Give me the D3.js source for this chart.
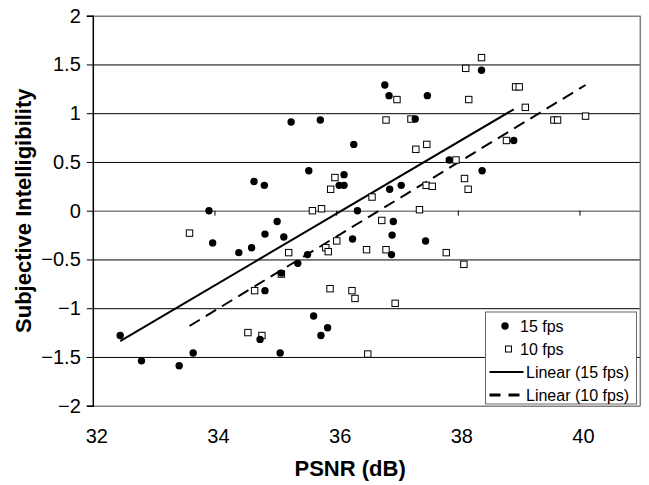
<!DOCTYPE html>
<html>
<head>
<meta charset="utf-8">
<script src="https://cdn.jsdelivr.net/npm/d3@7"></script>
<style>
  body { margin: 0; background: #fff; }
  text { font-family: "Liberation Sans", Arial, sans-serif; fill: #000; }
</style>
</head>
<body>
<div id="chart"></div>
<script>
const svgWidth = 649
const svgHeight = 485
let margin = { top: 15.7, right: 8.7, bottom: 79.3, left: 92.8 }
let width = svgWidth - margin.left - margin.right
let height = svgHeight - margin.top - margin.bottom

// 15 fps (filled circles)
const psnr15 = [33.91, 35.03, 34.83, 35.14, 33.97, 34.40, 34.61, 34.83, 35.10, 32.45,
  32.80, 33.42, 33.65, 34.75, 35.08, 36.35, 36.94, 36.92, 36.27, 37.47,
  36.91, 35.53, 35.37, 35.63, 35.86, 35.75, 36.80, 36.87, 37.50, 35.26,
  35.74, 37.30, 36.29, 35.55, 34.65, 34.82, 36.13, 36.05, 36.13, 36.88,
  37.07, 38.39, 38.92, 37.86, 38.40]
const intel15 = [0.00, -0.11, -0.24, -0.27, -0.33, -0.43, -0.38, -0.82, -0.64, -1.28,
  -1.54, -1.59, -1.46, -1.32, -1.46, 0.00, -0.11, -0.25, -0.29, -0.31,
  -0.45, -0.45, -0.54, -1.08, -1.20, -1.28, 1.29, 1.18, 1.18, 0.91,
  0.93, 0.94, 0.68, 0.41, 0.30, 0.26, 0.37, 0.26, 0.26, 0.22,
  0.26, 1.44, 0.72, 0.52, 0.41]

// 10 fps (open squares)
const psnr10 = [33.59, 34.66, 34.55, 34.78, 35.61, 35.76, 36.75, 37.37, 36.01, 35.83,
  35.87, 35.22, 36.50, 36.82, 37.81, 35.10, 35.90, 36.26, 36.31, 36.97,
  36.52, 37.48, 37.58, 38.11, 38.17, 38.10, 37.00, 36.82, 37.23, 37.49,
  37.31, 35.98, 35.91, 36.59, 38.39, 38.13, 38.95, 39.01, 38.18, 39.11,
  39.58, 39.64, 40.10, 38.80, 37.97]
const intel10 = [-0.23, -0.82, -1.25, -1.28, 0.00, 0.02, -0.10, 0.01, -0.31, -0.38,
  -0.42, -0.43, -0.40, -0.40, -0.43, -0.65, -0.80, -0.82, -0.90, -0.95,
  -1.47, 0.26, 0.25, 0.33, 0.22, -0.55, 1.14, 0.93, 0.94, 0.68,
  0.63, 0.34, 0.22, 0.14, 1.57, 1.46, 1.27, 1.27, 1.14, 1.06,
  0.93, 0.93, 0.97, 0.72, 0.52]

const xTicks = [32, 34, 36, 38, 40]
const yTicks = [-2, -1.5, -1, -0.5, 0, 0.5, 1, 1.5, 2]
const legendLabels = ["15 fps", "10 fps", "Linear (15 fps)", "Linear (10 fps)"]

let svg = d3.select("#chart")
  .append("svg")
  .attr("width", svgWidth)
  .attr("height", svgHeight)
let chartGroup = svg.append("g")
  .attr("transform", `translate(${margin.left}, ${margin.top})`)

let x = d3.scaleLinear().domain([32, 41]).range([0, width])
let y = d3.scaleLinear().domain([-2, 2]).range([height, 0])

// horizontal gridlines
let grid = chartGroup.append("g")
  .call(d3.axisLeft(y).tickValues(yTicks).tickSize(-width).tickFormat(""))
grid.select(".domain").remove()
grid.selectAll("line").attr("stroke", "#000").attr("stroke-width", 1)
grid.selectAll(".tick")
  .filter(d => d === 2 || d === -2 || d === 0)
  .select("line").attr("stroke", "#808080").attr("stroke-width", 1.5)

// plot border (right side)
chartGroup.append("line")
  .attr("x1", width).attr("x2", width).attr("y1", 0).attr("y2", height)
  .attr("stroke", "#808080").attr("stroke-width", 1.5)

// y axis
let yAxis = chartGroup.append("g")
  .call(d3.axisLeft(y).tickValues(yTicks).tickSize(6).tickPadding(6)
    .tickFormat(d => d3.format("")(d)))
yAxis.select(".domain").attr("stroke", "#000").attr("stroke-width", 1.5)
yAxis.selectAll("line").attr("stroke", "#000")
yAxis.selectAll("text").style("font-size", "20px")

// x axis crossing at zero, labels at the bottom
let xAxisZero = chartGroup.append("g")
  .attr("transform", `translate(0, ${y(0)})`)
  .call(d3.axisBottom(x).tickValues(xTicks).tickSize(5).tickFormat(""))
xAxisZero.select(".domain").remove()
xAxisZero.selectAll("line").attr("stroke", "#000")

let xLabels = chartGroup.append("g")
  .attr("transform", `translate(0, ${height})`)
  .call(d3.axisBottom(x).tickValues(xTicks).tickSize(0).tickPadding(23))
xLabels.select(".domain").remove()
xLabels.selectAll("text").style("font-size", "20px").attr("dx", 3.5)

// axis titles
svg.append("text")
  .attr("x", margin.left + x(36.23))
  .attr("y", 476)
  .attr("text-anchor", "middle")
  .style("font-size", "22px")
  .style("font-weight", "bold")
  .text("PSNR (dB)")
svg.append("text")
  .attr("transform", `translate(31, ${margin.top + y(0)}) rotate(-90)`)
  .attr("text-anchor", "middle")
  .style("font-size", "22px")
  .style("font-weight", "bold")
  .text("Subjective Intelligibility")

// least-squares trend over each series' range
function trend(xs, ys) {
  let mx = d3.mean(xs), my = d3.mean(ys)
  let sxy = d3.sum(xs, (v, i) => (v - mx) * (ys[i] - my))
  let sxx = d3.sum(xs, v => (v - mx) * (v - mx))
  let b = sxy / sxx, a = my - b * mx
  let ext = d3.extent(xs)
  return ext.map(v => [v, a + b * v])
}
let line = d3.line().x(d => x(d[0])).y(d => y(d[1]))

chartGroup.append("path")
  .attr("d", line(trend(psnr15, intel15)))
  .attr("fill", "none").attr("stroke", "#000").attr("stroke-width", 2)
chartGroup.append("path")
  .attr("d", line(trend(psnr10, intel10)))
  .attr("fill", "none").attr("stroke", "#000").attr("stroke-width", 2)
  .attr("stroke-dasharray", "12,7")

// points
chartGroup.selectAll(".sq")
  .data(psnr10.map((v, i) => [v, intel10[i]]))
  .enter()
  .append("rect")
  .attr("x", d => x(d[0]) - 3.2)
  .attr("y", d => y(d[1]) - 3.2)
  .attr("width", 6.4)
  .attr("height", 6.4)
  .attr("fill", "#fff")
  .attr("stroke", "#000")
  .attr("stroke-width", 1)
chartGroup.selectAll(".dot")
  .data(psnr15.map((v, i) => [v, intel15[i]]))
  .enter()
  .append("circle")
  .attr("cx", d => x(d[0]))
  .attr("cy", d => y(d[1]))
  .attr("r", 3.7)
  .attr("fill", "#000")

// legend
let legend = svg.append("g").attr("transform", "translate(485.5, 312)")
legend.append("rect")
  .attr("width", 151).attr("height", 92)
  .attr("fill", "#fff").attr("stroke", "#666").attr("stroke-width", 1)
let rowY = [14, 37, 60, 83]
legend.append("circle").attr("cx", 19.5).attr("cy", rowY[0]).attr("r", 3.7).attr("fill", "#000")
legend.append("rect").attr("x", 20).attr("y", rowY[1] - 3).attr("width", 6).attr("height", 6)
  .attr("fill", "#fff").attr("stroke", "#000")
legend.append("line").attr("x1", 4).attr("x2", 38).attr("y1", rowY[2]).attr("y2", rowY[2])
  .attr("stroke", "#000").attr("stroke-width", 2)
legend.append("line").attr("x1", 4).attr("x2", 38).attr("y1", rowY[3]).attr("y2", rowY[3])
  .attr("stroke", "#000").attr("stroke-width", 3).attr("stroke-dasharray", "11,8")
legend.selectAll(".lt")
  .data(legendLabels)
  .enter()
  .append("text")
  .attr("x", (d, i) => i < 2 ? 34.5 : 40.5)
  .attr("y", (d, i) => rowY[i])
  .attr("dy", "0.35em")
  .style("font-size", "16px")
  .text(d => d)
</script>
</body>
</html>
